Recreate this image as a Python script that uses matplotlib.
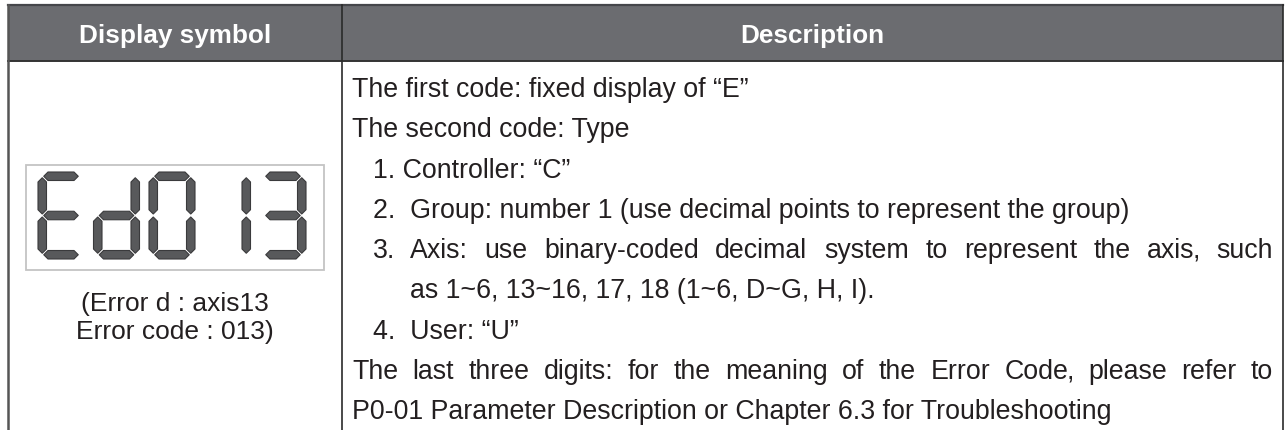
import matplotlib
matplotlib.use('Agg')
import matplotlib.pyplot as plt
from matplotlib.patches import Polygon, Rectangle

# table content
header_labels = ['Display symbol', 'Description']
display_chars = ['E', 'd', '0', '1', '3']
caption_lines = ['(Error d : axis13', 'Error code : 013)']
desc_lines = [
    'The first code: fixed display of \u201cE\u201d',
    'The second code: Type',
    '1. Controller: \u201cC\u201d',
    '2.  Group: number 1 (use decimal points to represent the group)',
    '3.  Axis: use binary-coded decimal system to represent the axis, such',
    'as 1~6, 13~16, 17, 18 (1~6, D~G, H, I).',
    '4.  User: \u201cU\u201d',
    'The last three digits: for the meaning of the Error Code, please refer to',
    'P0-01 Parameter Description or Chapter 6.3 for Troubleshooting',
]
desc_kinds = ['plain', 'plain', 'item', 'item', 'item', 'cont', 'item', 'plain', 'plain']
justified = {4, 7}

# which segments light up for each character
SEGMENTS = {'E': 'adefg', 'd': 'bcdeg', '0': 'abcdef', '1': 'bc', '3': 'abcdg'}

W, H = 1285, 431
FONT = 'Liberation Sans'
TXT = '#231f20'

fig = plt.figure(figsize=(W / 100, H / 100), dpi=100)
ax = fig.add_axes([0, 0, 1, 1])
ax.set_xlim(0, W)
ax.set_ylim(H, 0)
ax.axis('off')
renderer = fig.canvas.get_renderer()

x_left, x_mid, x_right = 8, 342, 1283
y_top, y_head = 6, 62

# header band and grid lines
ax.add_patch(Rectangle((x_left, y_top), x_right - x_left, y_head - y_top,
                       fc='#6b6c70', ec='none'))
ax.plot([x_left, x_right], [y_top, y_top], color='#45464a', lw=1.6)
ax.plot([x_left, x_right], [y_head, y_head], color='#333333', lw=1.4)
ax.plot([x_left, x_left], [y_top, H], color='#555555', lw=1.8)
ax.plot([x_mid, x_mid], [y_top, H], color='#2a2a2a', lw=1.2)
ax.plot([x_right, x_right], [y_top, H], color='#2a2a2a', lw=1.2)

for label, xc in zip(header_labels, [(x_left + x_mid) / 2, (x_mid + x_right) / 2]):
    ax.text(xc, 43, label, ha='center', va='baseline', color='white',
            fontsize=18.8, fontweight='bold', family=FONT)


# seven segment display
def seg_polys(x0, y0, w, h, t):
    g = 1.5
    ym = y0 + h / 2

    def hseg(xa, xb, y):
        return [(xa, y), (xa + t / 2, y - t / 2), (xb - t / 2, y - t / 2),
                (xb, y), (xb - t / 2, y + t / 2), (xa + t / 2, y + t / 2)]

    def vseg(x, ya, yb):
        return [(x, ya), (x + t / 2, ya + t / 2), (x + t / 2, yb - t / 2),
                (x, yb), (x - t / 2, yb - t / 2), (x - t / 2, ya + t / 2)]

    xl, xr = x0 + t / 2, x0 + w - t / 2
    yt, yb = y0 + t / 2, y0 + h - t / 2
    return {
        'a': hseg(xl + g, xr - g, yt),
        'g': hseg(xl + g, xr - g, ym),
        'd': hseg(xl + g, xr - g, yb),
        'f': vseg(xl, yt + g, ym - g),
        'b': vseg(xr, yt + g, ym - g),
        'e': vseg(xl, ym + g, yb - g),
        'c': vseg(xr, ym + g, yb - g),
    }


ax.add_patch(Rectangle((26, 166), 298, 105, fc='white', ec='#c4c4c4', lw=1.3))
for i, ch in enumerate(display_chars):
    polys = seg_polys(38 + 55.5 * i, 173, 46, 87, 8.5)
    for s in SEGMENTS[ch]:
        ax.add_patch(Polygon(polys[s], closed=True, fc='#58595b', ec='#3a3a3c',
                             lw=0.8, joinstyle='round'))

for k, line in enumerate(caption_lines):
    ax.text(175, 311 + 28 * k, line, ha='center', va='baseline', color=TXT,
            fontsize=19, family=FONT)

# description column
x_plain, x_num, x_item = 352, 373, 410
x_just_end = 1273
y0, dy = 97, 40.3


def word_text(x, y, s):
    return ax.text(x, y, s, ha='left', va='baseline', color=TXT,
                   fontsize=19.3, family=FONT)


def draw_justified(text, xa, xb, y):
    # one text per word; a trailing comma gets its own text so that the
    # word keeps the same baseline as its neighbours
    pieces = []
    for w in text.split():
        if w.endswith(',') and len(w) > 1:
            pieces.append((w[:-1], ','))
        else:
            pieces.append((w, ''))
    arts = []
    widths = []
    for body, tail in pieces:
        a = word_text(0, y, body)
        wa = a.get_window_extent(renderer).width
        b = word_text(0, y, tail) if tail else None
        wb = b.get_window_extent(renderer).width - 2 if b else 0
        arts.append((a, wa, b))
        widths.append(wa + wb)
    gap = (xb - xa - sum(widths)) / (len(pieces) - 1)
    x = xa
    for (a, wa, b), w in zip(arts, widths):
        a.set_x(x)
        if b is not None:
            b.set_x(x + wa - 2)
        x += w + gap


for k, (line, kind) in enumerate(zip(desc_lines, desc_kinds)):
    y = y0 + dy * k
    if k in justified:
        if kind == 'item':
            num, rest = line.split(' ', 1)
            word_text(x_num, y, num)
            draw_justified(rest.strip(), x_item, x_just_end, y)
        else:
            draw_justified(line, x_plain, x_just_end, y)
        continue
    x = {'plain': x_plain, 'item': x_num, 'cont': x_item}[kind]
    word_text(x, y, line)

fig.savefig('out.png', dpi=100)
